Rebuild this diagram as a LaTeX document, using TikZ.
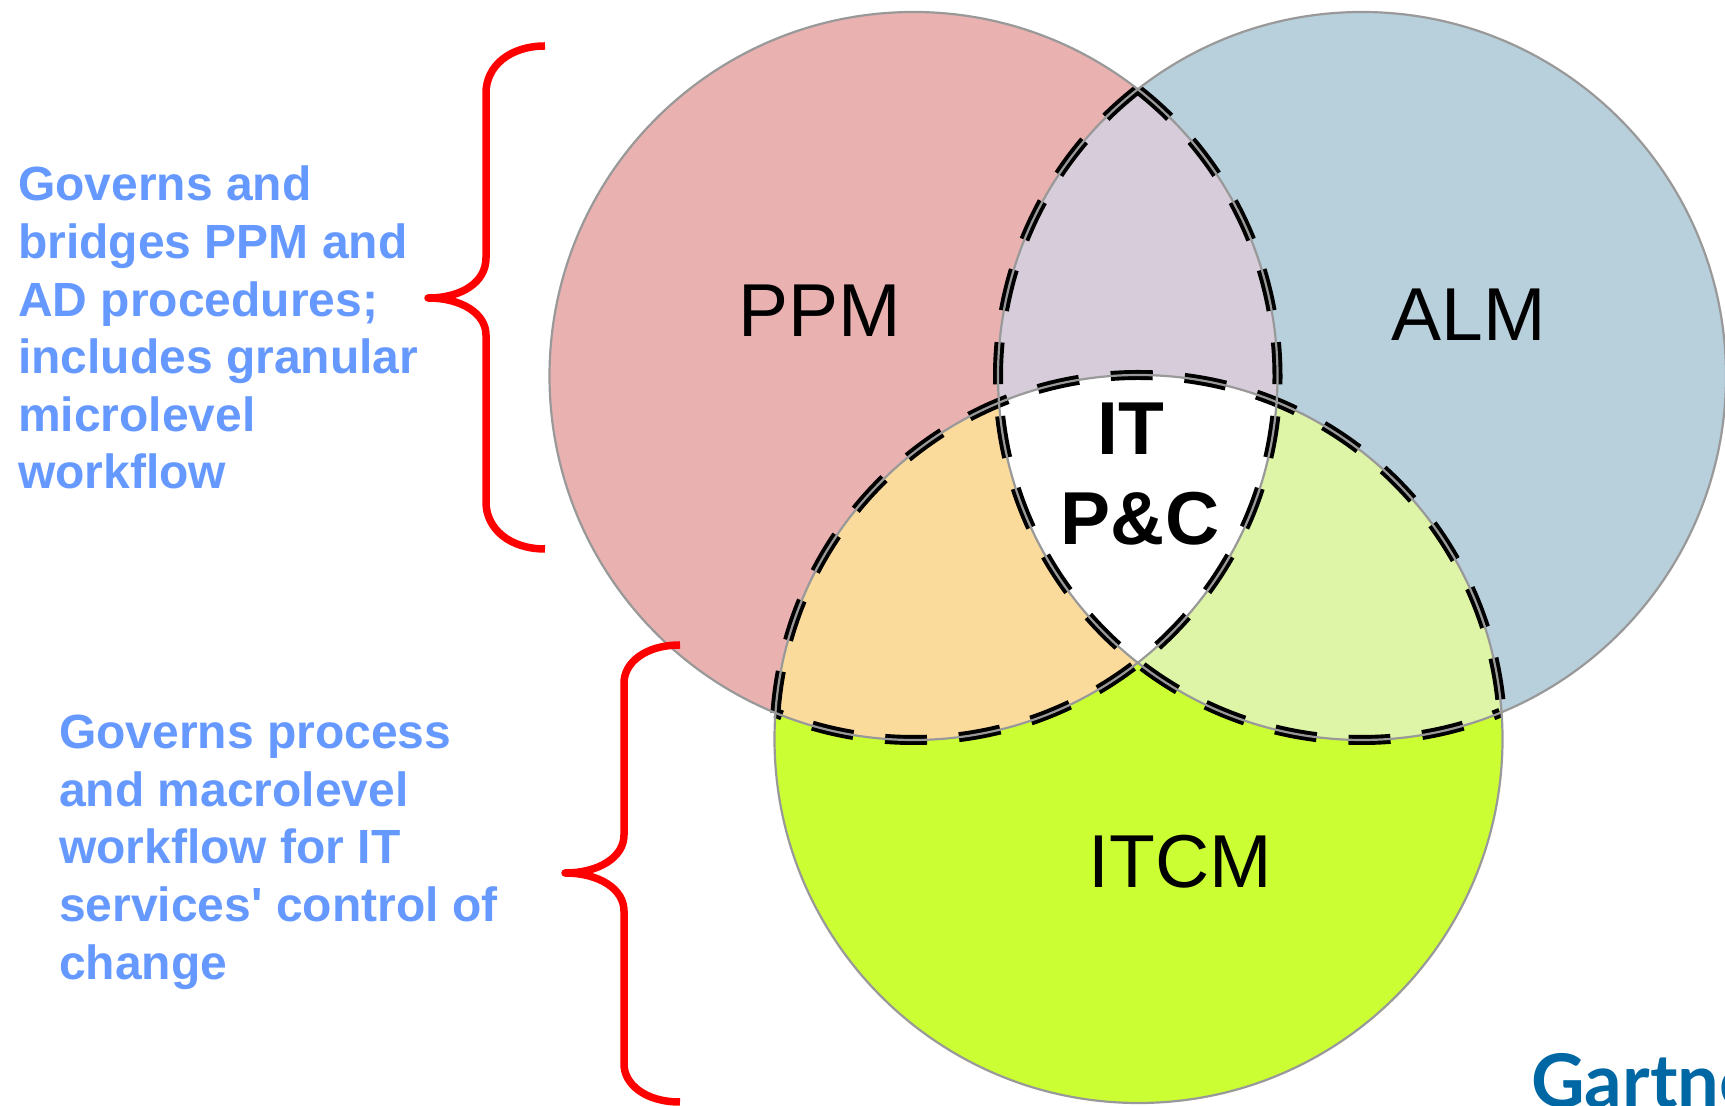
\documentclass[tikz,border=0pt]{standalone}
\usepackage{fontspec}
\setmainfont{Liberation Sans}
\newfontfamily\plainfont{Liberation Sans}
\newfontfamily\logofont{Lato}
\definecolor{ppmc}{HTML}{E9B1B0}
\definecolor{almc}{HTML}{B8CFDC}
\definecolor{itcmc}{HTML}{CCFF33}
\definecolor{pac}{HTML}{D7CCD9}
\definecolor{pic}{HTML}{FBDB9C}
\definecolor{aic}{HTML}{DEF4A6}
\definecolor{linec}{HTML}{999999}
\definecolor{textc}{HTML}{6699FF}
\definecolor{logoc}{HTML}{0067A5}
\tikzset{
  x=1pt,y=1pt,
  ring/.style={draw=linec,line width=2.2pt},
  dashline/.style={draw=black,line width=10pt,dash pattern=on 42pt off 32pt},
  bracepen/.style={draw=red,line width=7.5pt,line cap=butt,line join=round},
  note/.style={font=\plainfont\bfseries\fontsize{48}{57.6}\selectfont,text=textc,align=left,anchor=north west,inner sep=0pt},
  lab/.style={font=\fontsize{75}{88}\selectfont,text=black,anchor=base,inner sep=0pt},
  centrelab/.style={font=\bfseries\fontsize{75}{89}\selectfont,text=black,anchor=base,inner sep=0pt}
}
\def\Rr{364}
\begin{document}
\begin{tikzpicture}
\useasboundingbox (0,0) rectangle (1725,1106);
\clip (0,0) rectangle (1725,1106);
\fill[white] (0,0) rectangle (1725,1106);
\coordinate (c1) at (913.5,730);
\coordinate (c2) at (1362,730);
\coordinate (c3) at (1138.5,367);
% base fills
\fill[ppmc] (c1) circle (\Rr);
\fill[almc] (c2) circle (\Rr);
\fill[itcmc] (c3) circle (\Rr);
\begin{scope}\clip (c1) circle (\Rr); \fill[pac] (c2) circle (\Rr); \fill[pic] (c3) circle (\Rr);\end{scope}
\begin{scope}\clip (c2) circle (\Rr); \fill[aic] (c3) circle (\Rr);\end{scope}
\begin{scope}\clip (c1) circle (\Rr); \clip (c2) circle (\Rr); \fill[white] (c3) circle (\Rr);\end{scope}
% dashed borders
\draw[dashline] (c1) ++(51.9:\Rr) arc[start angle=51.9,end angle=-112.3,radius=\Rr];
\draw[dashline] (c2) ++(128.1:\Rr) arc[start angle=128.1,end angle=292.3,radius=\Rr];
\draw[dashline] (c3) ++(175.9:\Rr) arc[start angle=175.9,end angle=4.1,radius=\Rr];
% circle outlines
\draw[ring] (c1) circle (\Rr);
\draw[ring] (c2) circle (\Rr);
\draw[ring] (c3) circle (\Rr);
% braces
\draw[bracepen] (545,1060) .. controls (510,1060) and (486,1040) .. (486,1013) -- (486,848)
  .. controls (486,824) and (462,808) .. (428,808);
\draw[bracepen] (545,557) .. controls (510,557) and (486,577) .. (486,604) -- (486,771)
  .. controls (486,792) and (462,808) .. (428,808);
\fill[red] (428,808) circle (3.75);
\draw[bracepen] (680,461) .. controls (645,461) and (624,443) .. (624,423) -- (624,271)
  .. controls (624,249) and (599,233) .. (565,233);
\draw[bracepen] (680,4) .. controls (645,4) and (624,22) .. (624,42) -- (624,195)
  .. controls (624,217) and (599,233) .. (565,233);
\fill[red] (565,233) circle (3.75);
% text
\node[note] (n1) at (18,940) {Governs and\\bridges PPM and\\AD procedures;\\includes granular\\microlevel\\workflow};
\node[note] (n2) at (59,391) {Governs process\\and macrolevel\\workflow for IT\\services' control of\\change};
\node[lab] (ppm) at (820,769) {PPM};
\node[lab] (alm) at (1469,765) {ALM};
\node[lab] (itcm) at (1180,218) {ITCM};
\node[centrelab] (ipc1) at (1131,651) {IT};
\node[centrelab] (ipc2) at (1140,561) {P\&C};
\node[font=\logofont\bfseries\fontsize{74}{74}\selectfont,text=logoc,anchor=base west,inner sep=0pt] (logo) at (1531,-2) {Gartner};
\end{tikzpicture}
\end{document}
